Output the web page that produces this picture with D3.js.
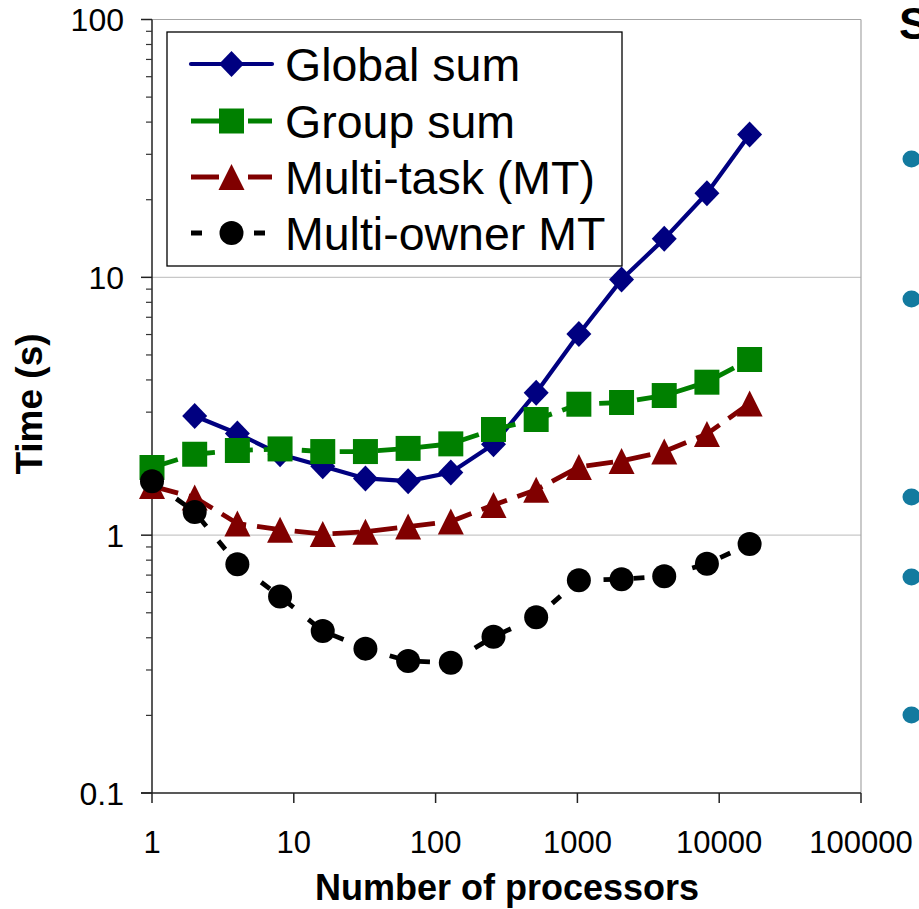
<!DOCTYPE html>
<html>
<head>
<meta charset="utf-8">
<script src="https://cdn.jsdelivr.net/npm/d3@7"></script>
<style>
  html, body { margin: 0; padding: 0; background: #fff; }
  svg { display: block; font-family: "Liberation Sans", Arial, sans-serif; }
</style>
</head>
<body>
<svg id="chart" width="919" height="909"></svg>
<script>
// ---- data ----
const processors = [1, 2, 4, 8, 16, 32, 64, 128, 256, 512, 1024, 2048, 4096, 8192, 16384];
const globalSum  = [null, 2.9, 2.48, 2.06, 1.85, 1.66, 1.62, 1.75, 2.25, 3.57, 6.03, 9.8, 14.1, 21.2, 35.8];
const groupSum   = [1.83, 2.06, 2.13, 2.16, 2.11, 2.11, 2.17, 2.26, 2.57, 2.81, 3.22, 3.27, 3.48, 3.92, 4.8];
const multiTask  = [1.55, 1.40, 1.11, 1.05, 1.01, 1.03, 1.08, 1.13, 1.31, 1.50, 1.84, 1.94, 2.11, 2.47, 3.24];
const multiOwner = [1.62, 1.23, 0.772, 0.578, 0.425, 0.363, 0.325, 0.320, 0.404, 0.480, 0.669, 0.675, 0.693, 0.775, 0.924];
const seriesNames = ["Global sum", "Group sum", "Multi-task (MT)", "Multi-owner MT"];
const xTickValues = [1, 10, 100, 1000, 10000, 100000];
const xTickLabels = ["1", "10", "100", "1000", "10000", "100000"];
const yTickValues = [0.1, 1, 10, 100];
const yTickLabels = ["0.1", "1", "10", "100"];

// ---- layout ----
const svg = d3.select("#chart");
const L = 152, R = 861, T = 19.5, B = 793;
const x = d3.scaleLog().domain([1, 100000]).range([L, R]);
const y = d3.scaleLog().domain([0.1, 100]).range([B, T]);

const styles = [
  {color: "#000080", dash: null,    width: 4.2, marker: "diamond"},
  {color: "#008000", dash: "27,11", width: 4.8, marker: "square"},
  {color: "#800000", dash: "27,11", width: 4.8, marker: "triangle"},
  {color: "#000000", dash: "11,19", width: 4.8, marker: "circle"}
];
const allSeries = [globalSum, groupSum, multiTask, multiOwner];

function markerPath(kind) {
  if (kind === "diamond") return "M0,-13L12.5,0L0,13L-12.5,0Z";
  if (kind === "square") return "M-12.5,-12.5H12.5V12.5H-12.5Z";
  if (kind === "triangle") return "M0,-13L13,13L-13,13Z";
  return "M-12,0A12,12 0 1,0 12,0A12,12 0 1,0 -12,0Z";
}

// gridlines (major y)
svg.append("g").selectAll("line").data([1, 10]).join("line")
  .attr("x1", L).attr("x2", R).attr("y1", d => y(d)).attr("y2", d => y(d))
  .attr("stroke", "#c8c8c8").attr("stroke-width", 1.2);

// top & right border
svg.append("line").attr("x1", L).attr("x2", R).attr("y1", T).attr("y2", T)
  .attr("stroke", "#a6a6a6").attr("stroke-width", 1.2);
svg.append("line").attr("x1", R).attr("x2", R).attr("y1", T).attr("y2", B)
  .attr("stroke", "#a6a6a6").attr("stroke-width", 1.2);

// y axis with minor ticks
const yMinor = [];
for (let dec = 0.1; dec < 100; dec *= 10) for (let k = 2; k <= 9; k++) yMinor.push(+(dec * k).toPrecision(3));
const yAx = svg.append("g");
yAx.append("line").attr("x1", L).attr("x2", L).attr("y1", T).attr("y2", B)
  .attr("stroke", "#222").attr("stroke-width", 1.5);
yAx.selectAll(".ymaj").data(yTickValues).join("line")
  .attr("x1", L - 11).attr("x2", L).attr("y1", d => y(d)).attr("y2", d => y(d))
  .attr("stroke", "#222").attr("stroke-width", 1.5);
yAx.selectAll(".ymin").data(yMinor).join("line")
  .attr("x1", L - 6).attr("x2", L).attr("y1", d => y(d)).attr("y2", d => y(d))
  .attr("stroke", "#333").attr("stroke-width", 1.2);
yAx.selectAll("text").data(yTickValues).join("text")
  .attr("x", 124).attr("y", d => y(d) + 11.5)
  .attr("text-anchor", "end").attr("font-size", 32).attr("fill", "#000")
  .text((d, i) => yTickLabels[i]);

// x axis
const xAx = svg.append("g");
xAx.append("line").attr("x1", L - 11).attr("x2", R).attr("y1", B).attr("y2", B)
  .attr("stroke", "#222").attr("stroke-width", 1.5);
xAx.selectAll(".xmaj").data(xTickValues).join("line")
  .attr("x1", d => x(d)).attr("x2", d => x(d)).attr("y1", B).attr("y2", B + 10)
  .attr("stroke", "#222").attr("stroke-width", 1.5);
xAx.selectAll("text").data(xTickValues).join("text")
  .attr("x", d => x(d)).attr("y", 853)
  .attr("text-anchor", "middle").attr("font-size", 31).attr("fill", "#000")
  .text((d, i) => xTickLabels[i]);

// axis titles
svg.append("text").attr("x", 507).attr("y", 900)
  .attr("text-anchor", "middle").attr("font-size", 36).attr("font-weight", "bold")
  .text("Number of processors");
svg.append("text").attr("transform", "translate(42,404) rotate(-90)")
  .attr("text-anchor", "middle").attr("font-size", 37).attr("font-weight", "bold")
  .text("Time (s)");

// series
allSeries.forEach((vals, si) => {
  const st = styles[si];
  const pts = processors.map((p, i) => ({p, v: vals[i]})).filter(d => d.v != null);
  const g = svg.append("g");
  g.append("path").datum(pts)
    .attr("d", d3.line().x(d => x(d.p)).y(d => y(d.v)))
    .attr("fill", "none").attr("stroke", st.color).attr("stroke-width", st.width)
    .attr("stroke-dasharray", st.dash).attr("stroke-linejoin", "round");
  g.selectAll(".m").data(pts).join("path")
    .attr("transform", d => `translate(${x(d.p)},${y(d.v)})`)
    .attr("d", markerPath(st.marker)).attr("fill", st.color);
});

// legend
const lg = svg.append("g");
lg.append("rect").attr("x", 167).attr("y", 32).attr("width", 455).attr("height", 234)
  .attr("fill", "#fff").attr("stroke", "#000").attr("stroke-width", 1.3);
const rowY = [64, 121, 177, 233];
seriesNames.forEach((name, i) => {
  const st = styles[i], cy = rowY[i];
  if (i === 0) {
    lg.append("line").attr("x1", 191).attr("x2", 272).attr("y1", cy).attr("y2", cy)
      .attr("stroke", st.color).attr("stroke-width", st.width).attr("stroke-linecap", "round");
  } else if (i < 3) {
    [[191, 219], [248, 272]].forEach(s => lg.append("line").attr("x1", s[0]).attr("x2", s[1])
      .attr("y1", cy).attr("y2", cy).attr("stroke", st.color).attr("stroke-width", 5));
  } else {
    [[191, 202], [254, 265]].forEach(s => lg.append("line").attr("x1", s[0]).attr("x2", s[1])
      .attr("y1", cy).attr("y2", cy).attr("stroke", st.color).attr("stroke-width", 5));
  }
  lg.append("path").attr("transform", `translate(231.5,${cy})`)
    .attr("d", markerPath(st.marker)).attr("fill", st.color);
  lg.append("text").attr("x", 285).attr("y", cy + 16.5)
    .attr("font-size", 46.5).attr("fill", "#000").text(name);
});

// slide remnants on the right
svg.append("text").attr("x", 899).attr("y", 39).attr("font-size", 45)
  .attr("font-weight", "bold").attr("fill", "#000").text("S");
svg.append("g").selectAll("ellipse").data([159, 299, 497, 577, 715]).join("ellipse")
  .attr("cx", 911.5).attr("cy", d => d).attr("rx", 9).attr("ry", 8.5)
  .attr("fill", "#137a9f");
</script>
</body>
</html>
